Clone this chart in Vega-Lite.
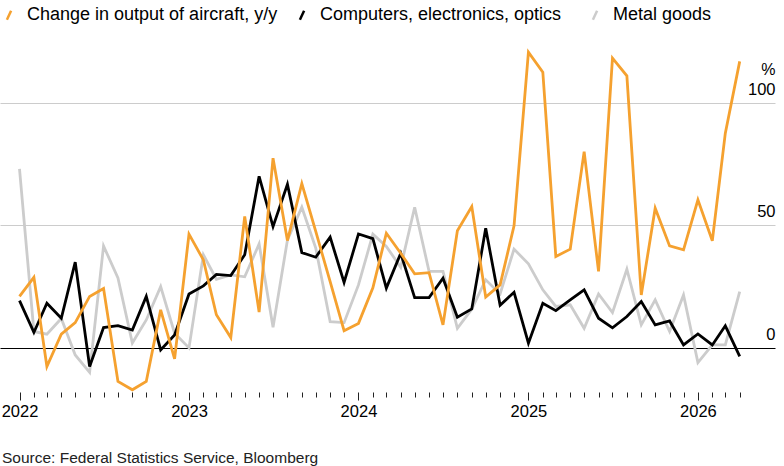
{
  "$schema": "https://vega.github.io/schema/vega-lite/v6.json",
  "width": 775,
  "height": 348,
  "autosize": "none",
  "padding": {"left": 0, "top": 44, "right": 9, "bottom": 74},
  "background": "white",
  "config": {
    "view": {"stroke": null},
    "font": "Liberation Sans",
    "axis": {"labelFont": "Liberation Sans", "titleFont": "Liberation Sans"},
    "legend": {"labelFont": "Liberation Sans"}
  },
  "title": {
    "text": "Source: Federal Statistics Service, Bloomberg",
    "orient": "bottom",
    "anchor": "start",
    "frame": "group",
    "fontSize": 15.5,
    "fontWeight": "normal",
    "color": "#222222",
    "offset": 31,
    "dx": 2
  },
  "data": {
    "values": [
      {"date": "2022-01-01", "aircraft": 21, "computers": 19.3, "metal": 73},
      {"date": "2022-02-01", "aircraft": 28.8, "computers": 6.3, "metal": 6.7},
      {"date": "2022-03-01", "aircraft": -7.6, "computers": 18.2, "metal": 5.6},
      {"date": "2022-04-01", "aircraft": 5.6, "computers": 12.1, "metal": 12},
      {"date": "2022-05-01", "aircraft": 10.3, "computers": 35, "metal": -2.9},
      {"date": "2022-06-01", "aircraft": 21, "computers": -7.6, "metal": -10},
      {"date": "2022-07-01", "aircraft": 24.2, "computers": 8.3, "metal": 41.6},
      {"date": "2022-08-01", "aircraft": -13.7, "computers": 9.1, "metal": 28.5},
      {"date": "2022-09-01", "aircraft": -17.1, "computers": 7.3, "metal": 2},
      {"date": "2022-10-01", "aircraft": -13.7, "computers": 21, "metal": 11.4},
      {"date": "2022-11-01", "aircraft": 15.5, "computers": -0.8, "metal": 25},
      {"date": "2022-12-01", "aircraft": -4.5, "computers": 5.3, "metal": 6},
      {"date": "2023-01-01", "aircraft": 46.4, "computers": 22, "metal": 0},
      {"date": "2023-02-01", "aircraft": 35.9, "computers": 25.3, "metal": 38},
      {"date": "2023-03-01", "aircraft": 13.5, "computers": 30, "metal": 28},
      {"date": "2023-04-01", "aircraft": 4.2, "computers": 29.5, "metal": 29.8},
      {"date": "2023-05-01", "aircraft": 53.6, "computers": 38, "metal": 29},
      {"date": "2023-06-01", "aircraft": 14.6, "computers": 70, "metal": 42.4},
      {"date": "2023-07-01", "aircraft": 77.4, "computers": 49.5, "metal": 8.4},
      {"date": "2023-08-01", "aircraft": 43.8, "computers": 66.8, "metal": 44},
      {"date": "2023-09-01", "aircraft": 67, "computers": 38.9, "metal": 57.4},
      {"date": "2023-10-01", "aircraft": 47.5, "computers": 37, "metal": 40.7},
      {"date": "2023-11-01", "aircraft": 27, "computers": 45.2, "metal": 10.7},
      {"date": "2023-12-01", "aircraft": 7, "computers": 26.7, "metal": 10.3},
      {"date": "2024-01-01", "aircraft": 10, "computers": 46.5, "metal": 25.7},
      {"date": "2024-02-01", "aircraft": 24.5, "computers": 44.6, "metal": 46.4},
      {"date": "2024-03-01", "aircraft": 46.8, "computers": 24.4, "metal": 41.4},
      {"date": "2024-04-01", "aircraft": 38.6, "computers": 38.6, "metal": 32.9},
      {"date": "2024-05-01", "aircraft": 30.2, "computers": 20.5, "metal": 57.4},
      {"date": "2024-06-01", "aircraft": 30.7, "computers": 20.5, "metal": 31.2},
      {"date": "2024-07-01", "aircraft": 9.4, "computers": 28.4, "metal": 31.2},
      {"date": "2024-08-01", "aircraft": 47.8, "computers": 12.5, "metal": 8},
      {"date": "2024-09-01", "aircraft": 57.7, "computers": 15.9, "metal": 15.8},
      {"date": "2024-10-01", "aircraft": 20.7, "computers": 48.8, "metal": 27.8},
      {"date": "2024-11-01", "aircraft": 25.7, "computers": 17.4, "metal": 22},
      {"date": "2024-12-01", "aircraft": 49.8, "computers": 22.7, "metal": 40.3},
      {"date": "2025-01-01", "aircraft": 120.7, "computers": 1.9, "metal": 34.3},
      {"date": "2025-02-01", "aircraft": 112.5, "computers": 18.2, "metal": 23.7},
      {"date": "2025-03-01", "aircraft": 37.3, "computers": 15.2, "metal": 16.9},
      {"date": "2025-04-01", "aircraft": 40.3, "computers": 19.6, "metal": 17.6},
      {"date": "2025-05-01", "aircraft": 80.1, "computers": 23.7, "metal": 8},
      {"date": "2025-06-01", "aircraft": 31.2, "computers": 12.1, "metal": 22},
      {"date": "2025-07-01", "aircraft": 118.2, "computers": 8.2, "metal": 14.4},
      {"date": "2025-08-01", "aircraft": 111, "computers": 12.8, "metal": 32.1},
      {"date": "2025-09-01", "aircraft": 21.6, "computers": 18.9, "metal": 9.4},
      {"date": "2025-10-01", "aircraft": 57, "computers": 9.4, "metal": 19.6},
      {"date": "2025-11-01", "aircraft": 41.6, "computers": 11, "metal": 6.7},
      {"date": "2025-12-01", "aircraft": 40, "computers": 1.2, "metal": 21.6},
      {"date": "2026-01-01", "aircraft": 60.4, "computers": 5.7, "metal": -6},
      {"date": "2026-02-01", "aircraft": 43.7, "computers": 1.2, "metal": 1.2},
      {"date": "2026-03-01", "aircraft": 87.6, "computers": 9, "metal": 1.2},
      {"date": "2026-04-01", "aircraft": 116.9, "computers": -3.5, "metal": 23}
    ]
  },
  "encoding": {
    "x": {
      "field": "date",
      "type": "temporal",
      "title": null,
      "scale": {
        "type": "utc",
        "domain": [
          {"year": 2021, "month": 11, "date": 20, "utc": true},
          {"year": 2026, "month": 6, "date": 16, "utc": true}
        ]
      },
      "axis": {
        "values": [
          {"year": 2022, "month": 1, "date": 1, "utc": true}, {"year": 2022, "month": 2, "date": 1, "utc": true}, {"year": 2022, "month": 3, "date": 1, "utc": true}, {"year": 2022, "month": 4, "date": 1, "utc": true}, {"year": 2022, "month": 5, "date": 1, "utc": true}, {"year": 2022, "month": 6, "date": 1, "utc": true}, {"year": 2022, "month": 7, "date": 1, "utc": true}, {"year": 2022, "month": 8, "date": 1, "utc": true}, {"year": 2022, "month": 9, "date": 1, "utc": true}, {"year": 2022, "month": 10, "date": 1, "utc": true}, {"year": 2022, "month": 11, "date": 1, "utc": true}, {"year": 2022, "month": 12, "date": 1, "utc": true},
          {"year": 2023, "month": 1, "date": 1, "utc": true}, {"year": 2023, "month": 2, "date": 1, "utc": true}, {"year": 2023, "month": 3, "date": 1, "utc": true}, {"year": 2023, "month": 4, "date": 1, "utc": true}, {"year": 2023, "month": 5, "date": 1, "utc": true}, {"year": 2023, "month": 6, "date": 1, "utc": true}, {"year": 2023, "month": 7, "date": 1, "utc": true}, {"year": 2023, "month": 8, "date": 1, "utc": true}, {"year": 2023, "month": 9, "date": 1, "utc": true}, {"year": 2023, "month": 10, "date": 1, "utc": true}, {"year": 2023, "month": 11, "date": 1, "utc": true}, {"year": 2023, "month": 12, "date": 1, "utc": true},
          {"year": 2024, "month": 1, "date": 1, "utc": true}, {"year": 2024, "month": 2, "date": 1, "utc": true}, {"year": 2024, "month": 3, "date": 1, "utc": true}, {"year": 2024, "month": 4, "date": 1, "utc": true}, {"year": 2024, "month": 5, "date": 1, "utc": true}, {"year": 2024, "month": 6, "date": 1, "utc": true}, {"year": 2024, "month": 7, "date": 1, "utc": true}, {"year": 2024, "month": 8, "date": 1, "utc": true}, {"year": 2024, "month": 9, "date": 1, "utc": true}, {"year": 2024, "month": 10, "date": 1, "utc": true}, {"year": 2024, "month": 11, "date": 1, "utc": true}, {"year": 2024, "month": 12, "date": 1, "utc": true},
          {"year": 2025, "month": 1, "date": 1, "utc": true}, {"year": 2025, "month": 2, "date": 1, "utc": true}, {"year": 2025, "month": 3, "date": 1, "utc": true}, {"year": 2025, "month": 4, "date": 1, "utc": true}, {"year": 2025, "month": 5, "date": 1, "utc": true}, {"year": 2025, "month": 6, "date": 1, "utc": true}, {"year": 2025, "month": 7, "date": 1, "utc": true}, {"year": 2025, "month": 8, "date": 1, "utc": true}, {"year": 2025, "month": 9, "date": 1, "utc": true}, {"year": 2025, "month": 10, "date": 1, "utc": true}, {"year": 2025, "month": 11, "date": 1, "utc": true}, {"year": 2025, "month": 12, "date": 1, "utc": true},
          {"year": 2026, "month": 1, "date": 1, "utc": true}, {"year": 2026, "month": 2, "date": 1, "utc": true}, {"year": 2026, "month": 3, "date": 1, "utc": true}, {"year": 2026, "month": 4, "date": 1, "utc": true}
        ],
        "labelExpr": "utcmonth(datum.value) === 0 ? utcFormat(datum.value, '%Y') : ''",
        "labelOverlap": false,
        "labelFlush": false,
        "labelAlign": "center",
        "labelFontSize": 16.5,
        "labelColor": "#000000",
        "labelPadding": 3,
        "domain": false,
        "grid": false,
        "tickColor": "#222222",
        "tickWidth": 1,
        "tickSize": {"condition": {"test": "utcmonth(datum.value) === 0", "value": 8}, "value": 5}
      }
    }
  },
  "layer": [
    {
      "mark": {"type": "line", "strokeWidth": 2.8, "strokeJoin": "miter"},
      "encoding": {
        "y": {
          "field": "metal",
          "type": "quantitative",
          "title": "%",
          "scale": {"domain": [-18, 124], "zero": false, "nice": false},
          "axis": {
            "orient": "right",
            "values": [0, 50, 100],
            "ticks": false,
            "domain": false,
            "labelAlign": "right",
            "labelBaseline": "alphabetic",
            "labelPadding": 0,
            "labelOffset": -8.5,
            "labelFontSize": 16.5,
            "labelColor": "#000000",
            "labelFlush": false,
            "grid": true,
            "gridColor": {"condition": {"test": "datum.value === 0", "value": "#000000"}, "value": "#cccccc"},
            "gridWidth": 1,
            "titleAngle": 0,
            "titleAlign": "right",
            "titleBaseline": "alphabetic",
            "titleX": 0,
            "titleY": 30,
            "titleFontSize": 16,
            "titleFontWeight": "normal",
            "titleColor": "#000000"
          }
        },
        "color": {
          "datum": "Metal goods",
          "type": "nominal",
          "scale": {
            "domain": ["Change in output of aircraft, y/y", "Computers, electronics, optics", "Metal goods"],
            "range": ["#f5a12f", "#000000", "#cccccc"]
          },
          "legend": {
            "orient": "none",
            "legendX": 0,
            "legendY": -38,
            "direction": "horizontal",
            "columns": 3,
            "gridAlign": "all",
            "title": null,
            "labelFontSize": 18,
            "labelLimit": 0,
            "labelColor": "#000000",
            "symbolType": "M-0.35,0.75L0.35,-0.75",
            "symbolSize": 144,
            "symbolStrokeWidth": 2.5,
            "labelOffset": 9,
            "columnPadding": 15
          }
        }
      }
    },
    {
      "mark": {"type": "line", "strokeWidth": 2.8, "strokeJoin": "miter"},
      "encoding": {
        "y": {"field": "computers", "type": "quantitative", "title": "%"},
        "color": {"datum": "Computers, electronics, optics", "type": "nominal"}
      }
    },
    {
      "mark": {"type": "line", "strokeWidth": 2.8, "strokeJoin": "miter"},
      "encoding": {
        "y": {"field": "aircraft", "type": "quantitative", "title": "%"},
        "color": {"datum": "Change in output of aircraft, y/y", "type": "nominal"}
      }
    }
  ]
}
